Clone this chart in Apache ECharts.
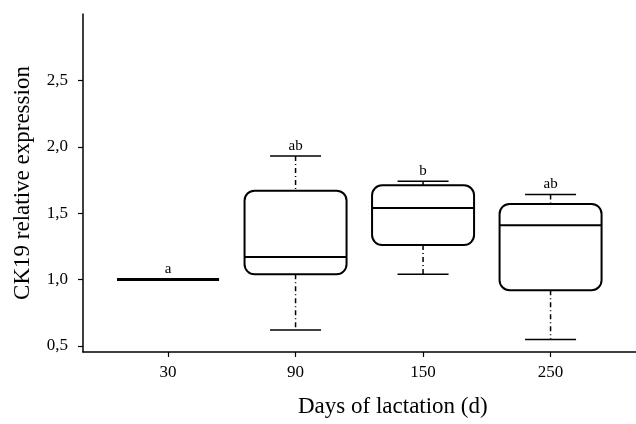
<!DOCTYPE html>
<html>
<head>
<meta charset="utf-8">
<script src="https://cdn.jsdelivr.net/npm/echarts@6/dist/echarts.min.js"></script>
<style>
  html, body { margin: 0; padding: 0; background: #fff; }
  #chart { width: 636px; height: 424px; }
</style>
</head>
<body>
<div id="chart"></div>
<script>
const days = ['30', '90', '150', '250'];
const lower = [1.00, 0.62, 1.04, 0.55];
const q1 = [1.00, 1.04, 1.26, 0.92];
const median = [1.00, 1.17, 1.54, 1.41];
const q3 = [1.00, 1.67, 1.71, 1.57];
const upper = [1.00, 1.93, 1.74, 1.64];
const letters = ['a', 'ab', 'b', 'ab'];
const yTicks = [0.5, 1.0, 1.5, 2.0, 2.5];

const font = '"Liberation Serif", "DejaVu Serif", serif';
const chart = echarts.init(document.getElementById('chart'));

const boxData = days.map((d, i) => [i, lower[i], q1[i], median[i], q3[i], upper[i]]);

function renderBox(params, api) {
    const i = api.value(0);
    const unit = api.size([1, 0])[0];
    const cx = api.coord([i, 0])[0];
    const yLow = api.coord([i, api.value(1)])[1];
    const yQ1 = api.coord([i, api.value(2)])[1];
    const yMed = api.coord([i, api.value(3)])[1];
    const yQ3 = api.coord([i, api.value(4)])[1];
    const yHigh = api.coord([i, api.value(5)])[1];
    const bw = unit * 0.8, cw = unit * 0.4;
    const h = yQ1 - yQ3;
    const dash = { stroke: '#000', lineWidth: 1.5, lineDash: [5, 3, 1, 3] };
    const cap = { stroke: '#000', lineWidth: 1.5 };
    const children = [
        { type: 'line', shape: { x1: cx, y1: yHigh, x2: cx, y2: yQ3 }, style: dash },
        { type: 'line', shape: { x1: cx, y1: yQ1, x2: cx, y2: yLow }, style: dash },
        { type: 'line', shape: { x1: cx - cw / 2, y1: yHigh, x2: cx + cw / 2, y2: yHigh }, style: cap },
        { type: 'line', shape: { x1: cx - cw / 2, y1: yLow, x2: cx + cw / 2, y2: yLow }, style: cap },
        { type: 'rect', shape: { x: cx - bw / 2, y: yQ3, width: bw, height: h, r: Math.min(10, h / 2) },
          style: { stroke: '#000', lineWidth: 2, fill: '#fff' } },
        { type: 'line', shape: { x1: cx - bw / 2, y1: yMed, x2: cx + bw / 2, y2: yMed }, style: { stroke: '#000', lineWidth: h > 0 ? 2 : 3 } },
        { type: 'text', style: { text: letters[i], x: cx, y: yHigh - 3, textAlign: 'center', textVerticalAlign: 'bottom',
          font: '15px ' + font, fill: '#000' } }
    ];
    return { type: 'group', children };
}

chart.setOption({
    animation: false,
    grid: { left: 83, top: 14, right: 0, bottom: 72, containLabel: false },
    graphic: [{
        type: 'text', left: 298, top: 395,
        style: { text: 'Days of lactation (d)', font: '23px ' + font, fill: '#000' }
    }],
    xAxis: {
        type: 'value', min: -0.667, max: 3.67,
        axisLine: { show: true, onZero: false, lineStyle: { color: '#000', width: 1.5 } },
        axisTick: { show: true, length: 5, customValues: [0, 1, 2, 3], lineStyle: { color: '#000', width: 1.2 } },
        axisLabel: { customValues: [0, 1, 2, 3], formatter: v => days[Math.round(v)], margin: 12,
            fontFamily: font, fontSize: 17, color: '#000' },
        splitLine: { show: false }
    },
    yAxis: {
        type: 'value', min: 0.455, max: 3.0,
        name: 'CK19 relative expression', nameLocation: 'middle', nameGap: 49,
        nameTextStyle: { fontFamily: font, fontSize: 23, color: '#000' },
        axisLine: { show: true, onZero: false, lineStyle: { color: '#000', width: 1.5 } },
        axisTick: { show: true, length: 5, customValues: yTicks, lineStyle: { color: '#000', width: 1.2 } },
        axisLabel: { customValues: yTicks, formatter: v => v.toFixed(1).replace('.', ','), margin: 15,
            fontFamily: font, fontSize: 17, color: '#000' },
        splitLine: { show: false }
    },
    series: [{
        type: 'custom',
        renderItem: renderBox,
        data: boxData,
        encode: { x: 0, y: [1, 2, 3, 4, 5] },
        clip: false
    }]
});
</script>
</body>
</html>
